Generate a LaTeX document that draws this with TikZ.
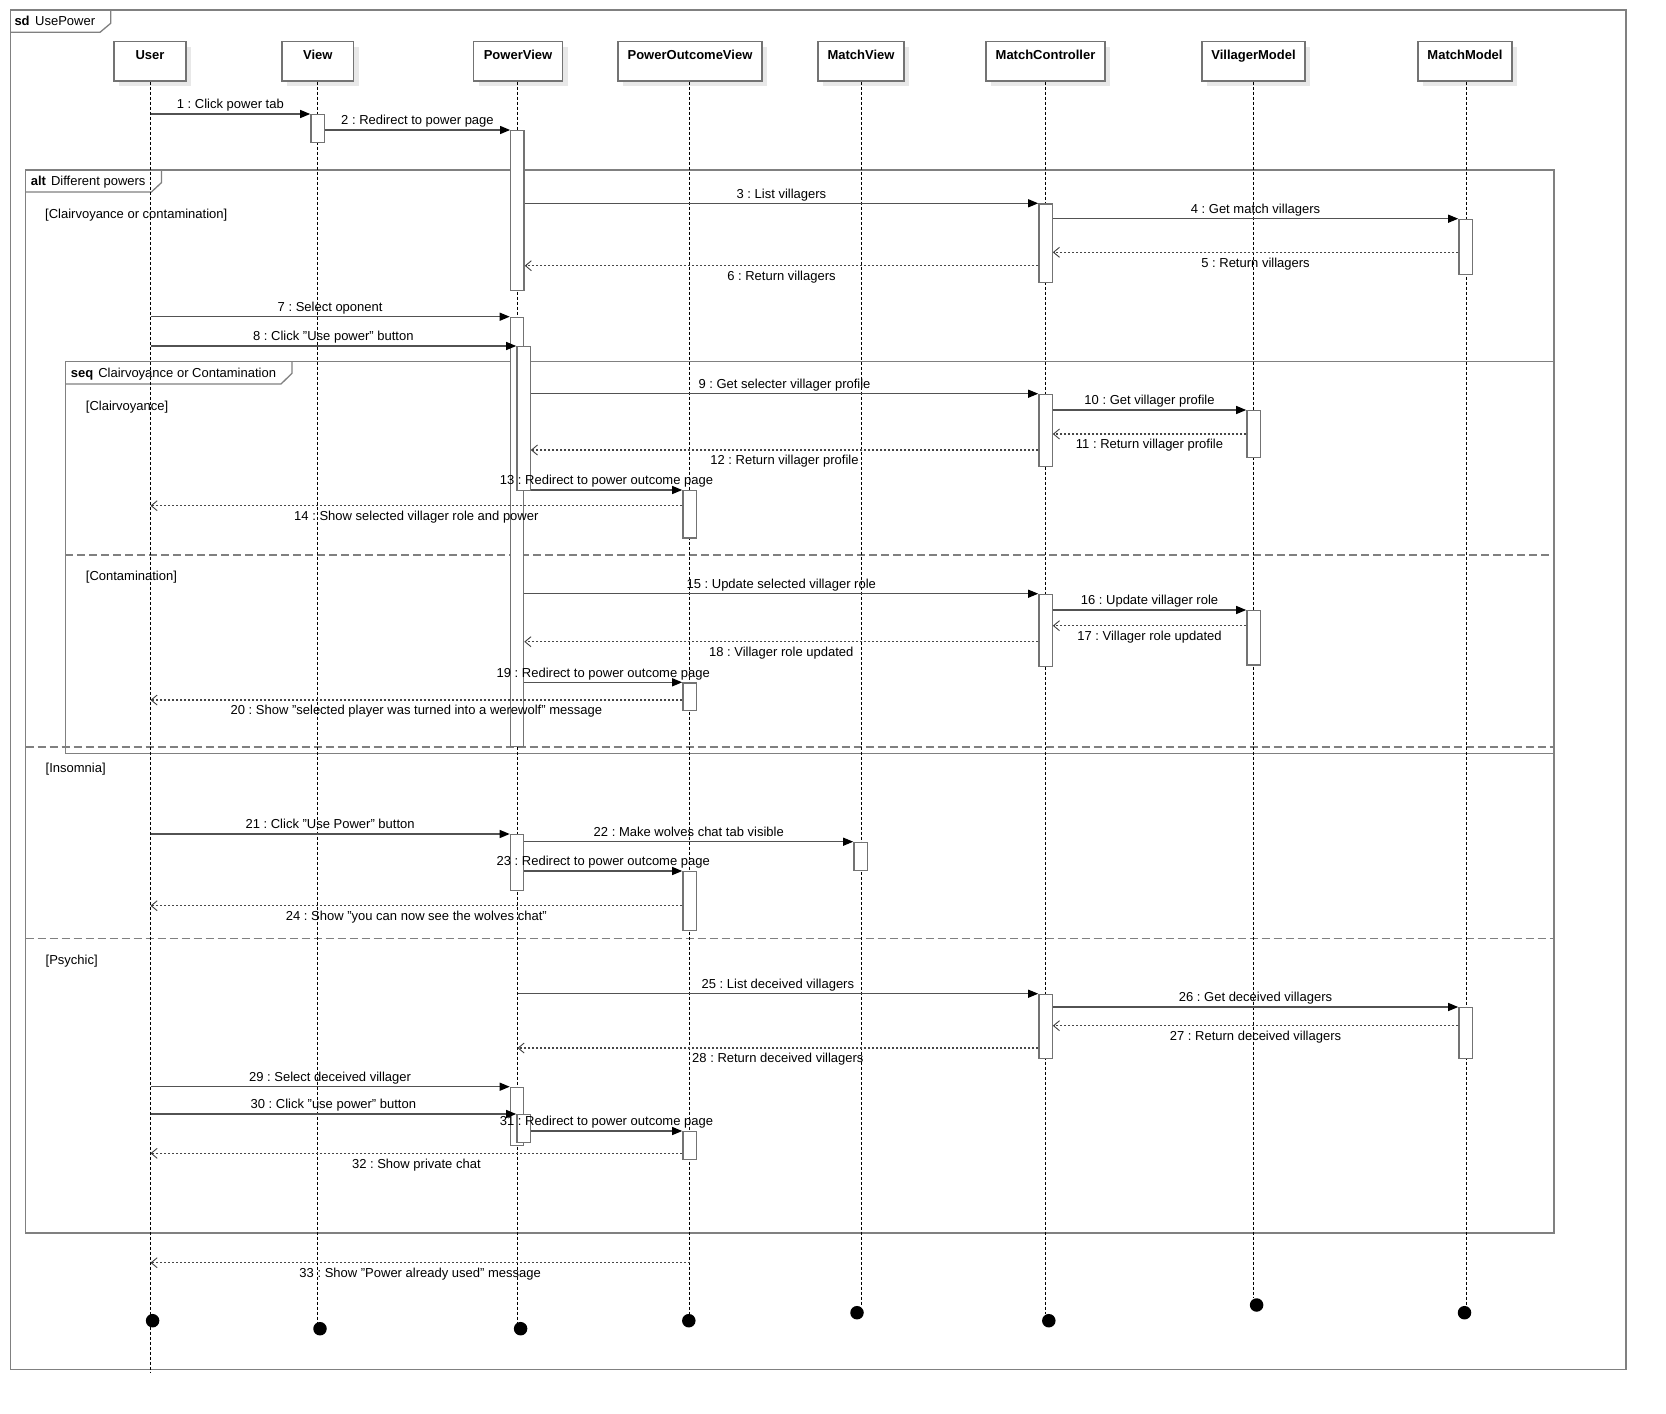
\documentclass[tikz,border=0pt]{standalone}
\usepackage{fontspec}
\setmainfont{Liberation Sans}
\usetikzlibrary{arrows.meta,shadows}
\frenchspacing
\begin{document}
\begin{tikzpicture}[x=1pt,y=-1pt,
  every node/.style={font=\fontsize{13}{15}\selectfont, inner sep=0pt, text height=9.4pt, text depth=0pt},
  frameline/.style={draw=black!50, line width=1.3pt},
  sepline/.style={draw=black!50, line width=1.3pt, dash pattern=on 8pt off 4pt},
  lifebox/.style={draw=black!55, line width=1.3pt, fill=white, minimum height=39.3pt, inner sep=0pt, text height=, text depth=,
     drop shadow={shadow xshift=5pt, shadow yshift=-5pt, fill=black!9, opacity=1}},
  boxname/.style={font=\fontsize{13}{15}\selectfont\bfseries},
  lifeline/.style={draw=black, line width=0.7pt, dash pattern=on 3pt off 2pt},
  act/.style={draw=black!55, line width=1.3pt, fill=white, minimum width=13.3pt, inner sep=0pt, anchor=north, text height=, text depth=},
  sync/.style={draw=black!68, line width=1.2pt, -{Triangle[length=10pt,width=8pt,black]}},
  ret/.style={draw=black!72, line width=1.2pt, dash pattern=on 2pt off 2pt,
     -{Straight Barb[length=6pt,width=10pt,line width=0.9pt,black!75]}},
  up/.style={midway, yshift=10pt},
  dn/.style={midway, yshift=-10pt},
  guard/.style={anchor=west},
  enddot/.style={circle, fill=black, minimum size=13.5pt, inner sep=0pt, text height=, text depth=},
]
\useasboundingbox (0,0) rectangle (1666,1414);
\fill[white] (0,0) rectangle (1666,1414);

% ---------- frames ----------
\draw[frameline] (10.7,10) rectangle (1626,1369.3);
\draw[frameline] (10.7,32.3) -- (100,32.3) -- (110.7,23.3) -- (110.7,10);
\node[anchor=west] (sdlbl) at (14.3,20.7) {\textbf{sd}\hspace{5.5pt}UsePower};

\draw[frameline] (25.7,170) rectangle (1554,1233);
\draw[frameline] (25.7,192) -- (151.4,192) -- (161.4,182.7) -- (161.4,170);
\node[anchor=west] (altlbl) at (30.7,180.7) {\textbf{alt}\hspace{5pt}Different powers};

\draw[frameline] (65.3,361.7) rectangle (1554,753.7);
\draw[frameline] (65.3,384) -- (281,384) -- (292,373.3) -- (292,361.7);
\node[anchor=west] (seqlbl) at (70.7,372.7) {\textbf{seq}\hspace{5pt}Clairvoyance or Contamination};

\draw[sepline] (65.3,555) -- (1554,555);
\draw[sepline] (25.7,747) -- (1554,747);
\draw[sepline] (25.7,938.3) -- (1554,938.3);

\node[guard] (g1) at (45,213.7) {[Clairvoyance or contamination]};
\node[guard] (g2) at (85.7,406) {[Clairvoyance]};
\node[guard] (g3) at (85.7,575.7) {[Contamination]};
\node[guard] (g4) at (45.5,768) {[Insomnia]};
\node[guard] (g5) at (45.5,959.3) {[Psychic]};

% ---------- lifelines ----------
\node[lifebox, minimum width=72pt]  (User) at (150,61.35) {};
\node[lifebox, minimum width=71.6pt] (View) at (317.8,61.35) {};
\node[lifebox, minimum width=89pt]  (PV)   at (518,61.35) {};
\node[lifebox, minimum width=144pt] (POV)  at (690,61.35) {};
\node[lifebox, minimum width=86pt]  (MV)   at (861,61.35) {};
\node[lifebox, minimum width=119pt] (MC)   at (1045.5,61.35) {};
\node[lifebox, minimum width=103pt] (VM)   at (1253.5,61.35) {};
\node[lifebox, minimum width=94pt]  (MM)   at (1465,61.35) {};
\foreach \n/\t in {User/User,View/View,PV/PowerView,POV/PowerOutcomeView,MV/MatchView,MC/MatchController,VM/VillagerModel,MM/MatchModel}
  \node[boxname] at ([yshift=-13.4pt]\n.north) {\t};

\coordinate (UserEnd) at (150.5,1373);
\coordinate (ViewEnd) at (317.5,1322);
\coordinate (PVEnd)   at (517.5,1322);
\coordinate (POVEnd)  at (689.8,1314);
\coordinate (MVEnd)   at (861,1306);
\coordinate (MCEnd)   at (1045.8,1314);
\coordinate (VMEnd)   at (1253.8,1298);
\coordinate (MMEnd)   at (1466,1306);
\draw[lifeline] (User.south -| UserEnd) -- (UserEnd);
\draw[lifeline] (View.south -| ViewEnd) -- (ViewEnd);
\draw[lifeline] (PV.south -| PVEnd) -- (PVEnd);
\draw[lifeline] (POV.south -| POVEnd) -- (POVEnd);
\draw[lifeline] (MV.south -| MVEnd) -- (MVEnd);
\draw[lifeline] (MC.south -| MCEnd) -- (MCEnd);
\draw[lifeline] (VM.south -| VMEnd) -- (VMEnd);
\draw[lifeline] (MM.south -| MMEnd) -- (MMEnd);

\node[enddot] (dUser) at (152.6,1320.7) {};
\node[enddot] (dView) at (320,1328.7) {};
\node[enddot] (dPV)   at (520.6,1328.7) {};
\node[enddot] (dPOV)  at (688.8,1320.7) {};
\node[enddot] (dMV)   at (857,1312.7) {};
\node[enddot] (dMC)   at (1048.8,1320.7) {};
\node[enddot] (dVM)   at (1256.6,1305) {};
\node[enddot] (dMM)   at (1464.5,1312.7) {};

% ---------- activations ----------
\node[act, minimum height=27.7pt] (vA)   at (317.5,114) {};
\node[act, minimum height=160pt]  (pA1)  at (517.4,130) {};
\node[act, minimum height=78.4pt] (mcA1) at (1045.5,203.3) {};
\node[act, minimum height=55.3pt] (mmA1) at (1465.5,218.7) {};
\node[act, minimum height=429pt]  (pA2)  at (517,316.7) {};
\node[act, minimum height=144pt]  (pA3)  at (523.5,346) {};
\node[act, minimum height=72pt]   (mcA2) at (1045.5,393.7) {};
\node[act, minimum height=46.7pt] (vmA1) at (1253.5,410) {};
\node[act, minimum height=47.3pt] (poA1) at (689.5,490) {};
\node[act, minimum height=72pt]   (mcA3) at (1045.5,593.7) {};
\node[act, minimum height=54.3pt] (vmA2) at (1253.5,610) {};
\node[act, minimum height=27.7pt] (poA2) at (689.5,682.3) {};
\node[act, minimum height=56pt]   (pA4)  at (517,834) {};
\node[act, minimum height=28.3pt] (mvA1) at (860.5,841.7) {};
\node[act, minimum height=59pt]   (poA3) at (689.5,871) {};
\node[act, minimum height=64.3pt] (mcA4) at (1045.5,993.7) {};
\node[act, minimum height=51pt]   (mmA2) at (1465.5,1007) {};
\node[act, minimum height=58.3pt] (pA5)  at (517,1086.7) {};
\node[act, minimum height=27.7pt] (pA6)  at (523.5,1114) {};
\node[act, minimum height=28pt]   (poA4) at (689.5,1131) {};

% y levels of return messages
\coordinate (y5) at (0,252.3);
\coordinate (y6) at (0,265.7);
\coordinate (y11) at (0,434);
\coordinate (y12) at (0,450);
\coordinate (y14) at (0,505.7);
\coordinate (y17) at (0,625.7);
\coordinate (y18) at (0,641.7);
\coordinate (y20) at (0,700);
\coordinate (y24) at (0,905.7);
\coordinate (y27) at (0,1025.7);
\coordinate (y28) at (0,1048);
\coordinate (y32) at (0,1153.3);
\coordinate (y33) at (0,1262.7);

% ---------- messages ----------
\draw[sync] (UserEnd |- vA.north) -- (vA.north west) node[up] {1 : Click power tab};
\draw[sync] (vA.east |- pA1.north) -- (pA1.north west) node[up] {2 : Redirect to power page};
\draw[sync] (pA1.east |- mcA1.north) -- (mcA1.north west) node[up] {3 : List villagers};
\draw[sync] (mcA1.east |- mmA1.north) -- (mmA1.north west) node[up] {4 : Get match villagers};
\draw[ret] (mmA1.west |- y5) -- (mcA1.east |- y5) node[dn] {5 : Return villagers};
\draw[ret] (mcA1.west |- y6) -- (pA1.east |- y6) node[dn] {6 : Return villagers};
\draw[sync] (UserEnd |- pA2.north) -- (pA2.north west) node[up] {7 : Select oponent};
\draw[sync] (UserEnd |- pA3.north) -- (pA3.north west) node[up] {8 : Click "Use power" button};
\draw[sync] (pA3.east |- mcA2.north) -- (mcA2.north west) node[up] {9 : Get selecter villager profile};
\draw[sync] (mcA2.east |- vmA1.north) -- (vmA1.north west) node[up] {10 : Get villager profile};
\draw[ret] (vmA1.west |- y11) -- (mcA2.east |- y11) node[dn] {11 : Return villager profile};
\draw[ret] (mcA2.west |- y12) -- (pA3.east |- y12) node[dn] {12 : Return villager profile};
\draw[sync] (pA3.east |- poA1.north) -- (poA1.north west) node[up] {13 : Redirect to power outcome page};
\draw[ret] (poA1.west |- y14) -- (UserEnd |- y14) node[dn] {14 : Show selected villager role and power};
\draw[sync] (pA2.east |- mcA3.north) -- (mcA3.north west) node[up] {15 : Update selected villager role};
\draw[sync] (mcA3.east |- vmA2.north) -- (vmA2.north west) node[up] {16 : Update villager role};
\draw[ret] (vmA2.west |- y17) -- (mcA3.east |- y17) node[dn] {17 : Villager role updated};
\draw[ret] (mcA3.west |- y18) -- (pA2.east |- y18) node[dn] {18 : Villager role updated};
\draw[sync] (pA2.east |- poA2.north) -- (poA2.north west) node[up] {19 : Redirect to power outcome page};
\draw[ret] (poA2.west |- y20) -- (UserEnd |- y20) node[dn] {20 : Show "selected player was turned into a werewolf" message};
\draw[sync] (UserEnd |- pA4.north) -- (pA4.north west) node[up] {21 : Click "Use Power" button};
\draw[sync] (pA4.east |- mvA1.north) -- (mvA1.north west) node[up] {22 : Make wolves chat tab visible};
\draw[sync] (pA4.east |- poA3.north) -- (poA3.north west) node[up] {23 : Redirect to power outcome page};
\draw[ret] (poA3.west |- y24) -- (UserEnd |- y24) node[dn] {24 : Show "you can now see the wolves chat"};
\draw[sync] (PVEnd |- mcA4.north) -- (mcA4.north west) node[up] {25 : List deceived villagers};
\draw[sync] (mcA4.east |- mmA2.north) -- (mmA2.north west) node[up] {26 : Get deceived villagers};
\draw[ret] (mmA2.west |- y27) -- (mcA4.east |- y27) node[dn] {27 : Return deceived villagers};
\draw[ret] (mcA4.west |- y28) -- (PVEnd |- y28) node[dn] {28 : Return deceived villagers};
\draw[sync] (UserEnd |- pA5.north) -- (pA5.north west) node[up] {29 : Select deceived villager};
\draw[sync] (UserEnd |- pA6.north) -- (pA6.north west) node[up] {30 : Click "use power" button};
\draw[sync] (pA6.east |- poA4.north) -- (poA4.north west) node[up] {31 : Redirect to power outcome page};
\draw[ret] (poA4.west |- y32) -- (UserEnd |- y32) node[dn] {32 : Show private chat};
\draw[ret] (POVEnd |- y33) -- (UserEnd |- y33) node[dn] {33 : Show "Power already used" message};
\end{tikzpicture}
\end{document}
